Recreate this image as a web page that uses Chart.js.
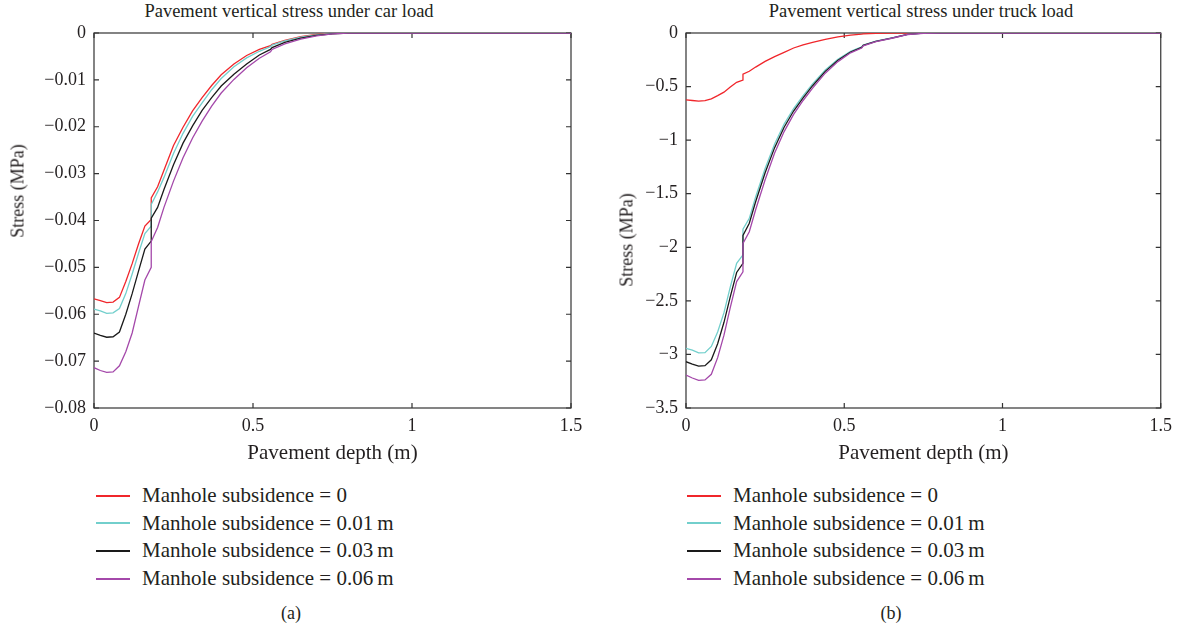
<!DOCTYPE html>
<html>
<head>
<meta charset="utf-8">
<script src="https://cdn.jsdelivr.net/npm/chart.js@4.4.1/dist/chart.umd.min.js"></script>
<style>
    body { margin: 0; background: #fff; width: 1179px; height: 631px; overflow: hidden; position: relative;
           font-family: "Liberation Serif", "DejaVu Serif", serif; color: #231f20; }
    canvas { position: absolute; top: 0; }
    .title { position: absolute; top: 1px; font-size: 18.5px; white-space: nowrap; transform: translateX(-50%); }
    .ytitle { position: absolute; font-size: 18px; white-space: nowrap; transform: translate(-50%, -50%) rotate(-90deg); }
    .legend { position: absolute; top: 482px; font-size: 21px; }
    .legend div { height: 27.6px; display: flex; align-items: center; white-space: nowrap; }
    .legend .swatch { display: inline-block; width: 34px; height: 2px; margin-right: 12px; }
    .caption { position: absolute; top: 603px; font-size: 18px; transform: translateX(-50%); }
</style>
</head>
<body>
<div class="title" style="left:289px">Pavement vertical stress under car load</div>
<div class="title" style="left:921px">Pavement vertical stress under truck load</div>
<canvas id="carChart" width="590" height="470" style="left:0"></canvas>
<canvas id="truckChart" width="589" height="470" style="left:590px"></canvas>
<div class="ytitle" style="left:18px;top:191px">Stress (MPa)</div>
<div class="ytitle" style="left:627px;top:240px">Stress (MPa)</div>
<div class="legend" id="carLegend" style="left:96px"></div>
<div class="legend" id="truckLegend" style="left:687px"></div>
<div class="caption" style="left:291px">(a)</div>
<div class="caption" style="left:891px">(b)</div>

<script>
// pavement depth (m), shared by all curves; 0.18 twice for the step
const depth = [0, 0.02, 0.04, 0.06, 0.08, 0.10, 0.12, 0.14, 0.16, 0.18, 0.18, 0.20, 0.22, 0.25, 0.28, 0.31, 0.34,
    0.37, 0.40, 0.44, 0.48, 0.52, 0.555, 0.56, 0.60, 0.65, 0.70, 0.75, 0.80, 0.90, 1.0, 1.25, 1.5];

// car load, stress (MPa)
const carRed = [-0.0567, -0.0571, -0.0575, -0.0574, -0.0564, -0.0530, -0.0492, -0.0450, -0.0412, -0.0398, -0.0352,
    -0.0328, -0.0293, -0.0240, -0.0201, -0.0166, -0.0138, -0.0112, -0.0089, -0.0066, -0.0048, -0.0035, -0.0027,
    -0.0024, -0.0016, -0.0008, -0.0003, -0.0001, 0, 0, 0, 0, 0];
const carCyan = [-0.0589, -0.0593, -0.0598, -0.0597, -0.0588, -0.0556, -0.0514, -0.0470, -0.0428, -0.0412, -0.0366,
    -0.0339, -0.0308, -0.0257, -0.0214, -0.0178, -0.0149, -0.0121, -0.0097, -0.0072, -0.0053, -0.0039, -0.0029,
    -0.0026, -0.0017, -0.0009, -0.0004, -0.0001, 0, 0, 0, 0, 0];
const carBlack = [-0.0640, -0.0645, -0.0649, -0.0648, -0.0638, -0.0600, -0.0556, -0.0508, -0.0461, -0.0444, -0.0395,
    -0.0372, -0.0334, -0.0281, -0.0235, -0.0198, -0.0165, -0.0138, -0.0113, -0.0088, -0.0066, -0.0047, -0.0035,
    -0.0031, -0.0020, -0.0011, -0.0005, -0.0002, 0, 0, 0, 0, 0];
const carPurple = [-0.0714, -0.0720, -0.0724, -0.0723, -0.0710, -0.0680, -0.0640, -0.0583, -0.0527, -0.0500, -0.0445,
    -0.0415, -0.0372, -0.0316, -0.0266, -0.0224, -0.0188, -0.0156, -0.0128, -0.0099, -0.0074, -0.0054, -0.0040,
    -0.0035, -0.0023, -0.0013, -0.0006, -0.0002, 0, 0, 0, 0, 0];

// truck load, stress (MPa)
const truckRed = [-0.625, -0.630, -0.635, -0.632, -0.614, -0.585, -0.552, -0.505, -0.460, -0.440, -0.385,
    -0.357, -0.318, -0.265, -0.220, -0.180, -0.140, -0.110, -0.088, -0.060, -0.036, -0.020, -0.010,
    -0.008, -0.004, -0.001, 0, 0, 0, 0, 0, 0, 0];
const truckCyan = [-2.943, -2.960, -2.985, -2.984, -2.925, -2.790, -2.610, -2.370, -2.150, -2.070, -1.830,
    -1.730, -1.530, -1.265, -1.035, -0.850, -0.705, -0.585, -0.475, -0.345, -0.245, -0.170, -0.130,
    -0.112, -0.075, -0.045, -0.012, -0.002, 0, 0, 0, 0, 0];
const truckBlack = [-3.068, -3.090, -3.110, -3.105, -3.050, -2.900, -2.700, -2.460, -2.235, -2.150, -1.890,
    -1.775, -1.575, -1.305, -1.070, -0.880, -0.728, -0.605, -0.492, -0.358, -0.255, -0.177, -0.135,
    -0.116, -0.078, -0.047, -0.013, -0.002, 0, 0, 0, 0, 0];
const truckPurple = [-3.193, -3.220, -3.243, -3.238, -3.185, -3.030, -2.820, -2.560, -2.320, -2.230, -1.965,
    -1.855, -1.650, -1.370, -1.120, -0.920, -0.760, -0.630, -0.515, -0.375, -0.267, -0.185, -0.140,
    -0.120, -0.080, -0.049, -0.014, -0.003, 0, 0, 0, 0, 0];

const seriesLabels = ['Manhole subsidence = 0', 'Manhole subsidence = 0.01\u2009m',
    'Manhole subsidence = 0.03\u2009m', 'Manhole subsidence = 0.06\u2009m'];
const seriesColors = ['#f0262b', '#72cfcc', '#1a1a1a', '#a448aa'];

const FONT = '"Liberation Serif", "DejaVu Serif", serif';
const TEXT = '#231f20';

function fmtTick(v) {
    return String(Math.round(v * 1000) / 1000).replace('-', '\u2212');
}

// box around the plot with short inward ticks on all four sides
const frameTicks = {
    id: 'frameTicks',
    beforeDatasetsDraw(chart) {
        const { ctx, chartArea: a, scales } = chart;
        ctx.save();
        ctx.strokeStyle = '#333';
        ctx.lineWidth = 1.2;
        ctx.strokeRect(a.left, a.top, a.right - a.left, a.bottom - a.top);
        ctx.beginPath();
        scales.x.ticks.forEach(t => {
            const px = scales.x.getPixelForValue(t.value);
            ctx.moveTo(px, a.bottom); ctx.lineTo(px, a.bottom - 5);
            ctx.moveTo(px, a.top); ctx.lineTo(px, a.top + 5);
        });
        scales.y.ticks.forEach(t => {
            const py = scales.y.getPixelForValue(t.value);
            ctx.moveTo(a.left, py); ctx.lineTo(a.left + 5, py);
            ctx.moveTo(a.right, py); ctx.lineTo(a.right - 5, py);
        });
        ctx.stroke();
        ctx.restore();
    }
};

function makeChart(id, legendId, series, yMin, yStep, yWidth, padRight) {
    const datasets = series.map((vals, i) => ({
        label: seriesLabels[i],
        data: depth.map((d, j) => ({ x: d, y: vals[j] })),
        borderColor: seriesColors[i],
        borderWidth: 1.3,
        pointRadius: 0,
        showLine: true,
        order: series.length - i
    }));

    const chart = new Chart(document.getElementById(id), {
        type: 'scatter',
        data: { datasets },
        options: {
            responsive: false,
            animation: false,
            devicePixelRatio: 1,
            layout: { padding: { top: 33, right: padRight, left: 0, bottom: 0 } },
            plugins: { legend: { display: false }, tooltip: { enabled: false } },
            scales: {
                x: {
                    min: 0, max: 1.5,
                    grid: { display: false, drawTicks: false },
                    border: { display: false },
                    ticks: { stepSize: 0.5, padding: 7, color: TEXT, font: { family: FONT, size: 18 },
                             callback: v => fmtTick(v) },
                    title: { display: true, text: 'Pavement depth (m)', color: TEXT,
                             font: { family: FONT, size: 21 }, padding: { top: 0, bottom: 4 } },
                    afterFit: s => { s.height = 62; }
                },
                y: {
                    min: yMin, max: 0,
                    grid: { display: false, drawTicks: false },
                    border: { display: false },
                    ticks: { stepSize: yStep, padding: 8, color: TEXT, font: { family: FONT, size: 18 },
                             callback: v => fmtTick(v) },
                    afterFit: s => { s.width = yWidth; }
                }
            }
        },
        plugins: [frameTicks]
    });

    const legend = document.getElementById(legendId);
    chart.data.datasets.forEach((ds, i) => {
        const row = document.createElement('div');
        const sw = document.createElement('span');
        sw.className = 'swatch';
        sw.style.background = seriesColors[i];
        row.appendChild(sw);
        row.appendChild(document.createTextNode(ds.label));
        legend.appendChild(row);
    });
    return chart;
}

makeChart('carChart', 'carLegend', [carRed, carCyan, carBlack, carPurple], -0.08, 0.01, 94, 19);
makeChart('truckChart', 'truckLegend', [truckRed, truckCyan, truckBlack, truckPurple], -3.5, 0.5, 96, 17);
</script>
</body>
</html>
